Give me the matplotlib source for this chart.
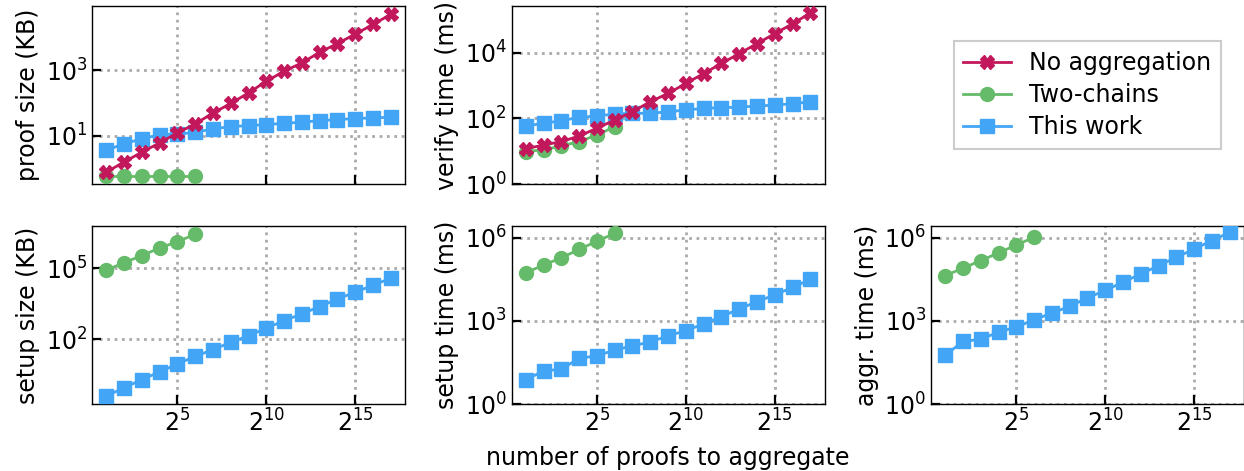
import numpy as np
import matplotlib
matplotlib.use('Agg')
import matplotlib.pyplot as plt
from matplotlib.ticker import LogFormatterSciNotation, NullLocator

plt.rcParams['font.family'] = ['DejaVu Sans']
plt.rcParams['font.size'] = 17

### Data
n_proofs = [2, 4, 8, 16, 32, 64, 128, 256, 512, 1024, 2048, 4096,
            8192, 16384, 32768, 65536, 131072]
n_two_chains = [2, 4, 8, 16, 32, 64]

proof_no_agg = [0.76, 1.56, 3.1, 6.0, 12.1, 22.8, 49, 96, 203, 460, 930,
                1680, 3530, 6540, 12700, 25000, 51500]
proof_two_chains = [0.58, 0.58, 0.58, 0.58, 0.58, 0.58]
proof_this_work = [3.5, 5.7, 7.9, 10.7, 11, 12.6, 16, 18.9, 20.2, 21.7,
                   23.8, 25.6, 28.8, 30.9, 33.2, 34.8, 36.4]

verify_no_agg = [11.8, 15.5, 19.6, 29, 50, 89, 159, 320, 570, 1150, 2300,
                 4650, 9300, 18700, 37500, 75000, 159000]
verify_two_chains = [9.8, 11, 14.5, 19.6, 31, 56]
verify_this_work = [58.5, 70.5, 85, 107, 118, 135, 142, 142, 159, 179, 201,
                    210, 220, 236, 253, 278, 320]

setup_size_two_chains = [83000, 174000, 345000, 730000, 1.35e6, 2.8e6]
setup_size_this_work = [0.38, 0.85, 1.9, 4.0, 8.7, 18.5, 35.4, 72, 138, 290,
                        595, 1170, 2390, 5040, 9700, 19200, 38000]

setup_time_two_chains = [55000, 104000, 191000, 380000, 760000, 1.44e6]
setup_time_this_work = [7.5, 15.8, 18.2, 45, 55, 90, 126, 176, 290, 450, 780,
                        1440, 2700, 5000, 8700, 16300, 31600]

aggr_time_two_chains = [43000, 79000, 149000, 282000, 545000, 1.03e6]
aggr_time_this_work = [57.5, 183, 216, 397, 600, 1100, 1910, 3330, 6800,
                       12500, 25000, 49000, 98000, 195000, 390000, 780000,
                       1.56e6]

labels = ['No aggregation', 'Two-chains', 'This work']
RED = '#C2185B'
GREEN = '#66BB6A'
BLUE = '#42A5F5'

### Figure
fig, axes = plt.subplots(2, 3, figsize=(12.44, 4.71), dpi=100, sharex=True)
fig.subplots_adjust(left=0.074, right=1.0, top=0.987, bottom=0.142,
                    wspace=0.34, hspace=0.236)

def draw(ax, no_agg, two, this):
    h = []
    if no_agg is not None:
        h += ax.plot(n_proofs, no_agg, color=RED, marker='X', ms=10, lw=2, zorder=5)
    h += ax.plot(n_two_chains, two, color=GREEN, marker='o', ms=10, lw=2, zorder=3)
    h += ax.plot(n_proofs, this, color=BLUE, marker='s', ms=10, lw=2, zorder=4)
    return h

panels = [
    (axes[0, 0], proof_no_agg, proof_two_chains, proof_this_work, 'proof size (KB)', [10, 1e3], False),
    (axes[0, 1], verify_no_agg, verify_two_chains, verify_this_work, 'verify time (ms)', [1, 1e2, 1e4], True),
    (axes[1, 0], None, setup_size_two_chains, setup_size_this_work, 'setup size (KB)', [1e2, 1e5], False),
    (axes[1, 1], None, setup_time_two_chains, setup_time_this_work, 'setup time (ms)', [1, 1e3, 1e6], True),
    (axes[1, 2], None, aggr_time_two_chains, aggr_time_this_work, 'aggr. time (ms)', [1, 1e3, 1e6], True),
]

handles = None
for ax, a, b, c, ylab, yt, bottom1 in panels:
    h = draw(ax, a, b, c)
    if a is not None and handles is None:
        handles = h
    ax.set_xscale('log', base=2)
    ax.set_yscale('log')
    if bottom1:
        ax.set_ylim(bottom=1)
    ax.set_yticks(yt)
    ax.yaxis.set_minor_locator(NullLocator())
    ax.set_xticks([2**5, 2**10, 2**15])
    ax.xaxis.set_major_formatter(LogFormatterSciNotation(base=2))
    ax.xaxis.set_minor_locator(NullLocator())
    ax.set_ylabel(ylab)
    ax.grid(True, which='major', linestyle=':', color='#aaaaaa', linewidth=2)
    ax.tick_params(direction='in', length=6.5, width=1.6, labelsize=17)
    for s in ax.spines.values():
        s.set_linewidth(1.0)

axes[1, 1].set_xlabel('number of proofs to aggregate', labelpad=7)

axes[0, 2].axis('off')
leg = axes[0, 2].legend(handles, labels, loc='center', fancybox=False,
                        edgecolor='#cccccc', framealpha=1, fontsize=17,
                        borderpad=0.4, labelspacing=0.35, handletextpad=0.8)
leg.get_frame().set_linewidth(1.5)

plt.savefig('out.png', dpi=100)
